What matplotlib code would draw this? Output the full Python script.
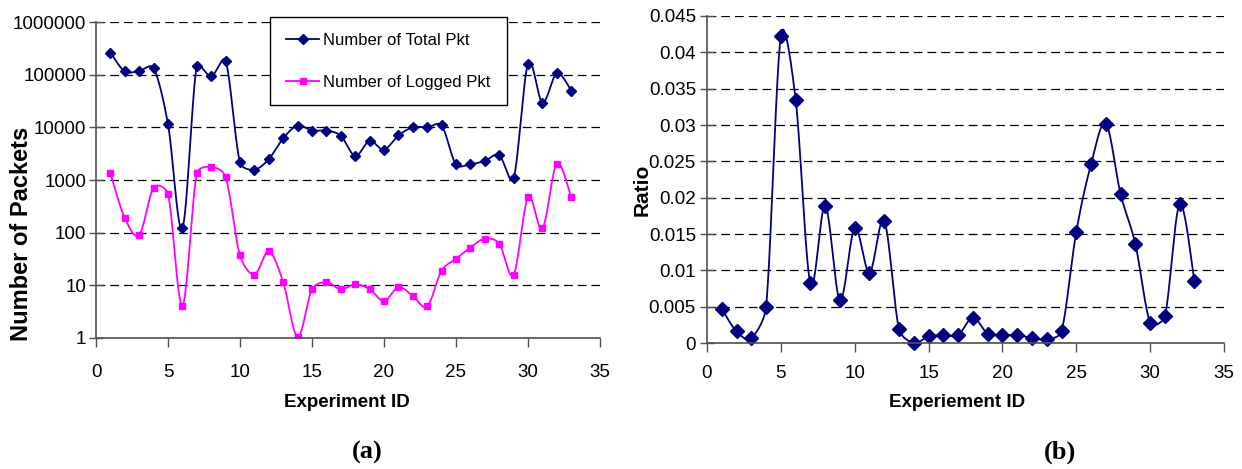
import numpy as np
import matplotlib
matplotlib.use("Agg")
import matplotlib.pyplot as plt

# experiment ids and values
exp_id = list(range(1, 34))
total_pkt = [263000, 115000, 119000, 134000, 11500, 123, 148000, 93000, 185000, 2150,
             1570, 2500, 6200, 10800, 8700, 8700, 6900, 2870, 5500, 3770,
             7000, 10000, 10000, 10900, 1970, 2000, 2300, 2950, 1070, 160000,
             29500, 106000, 50000]
logged_pkt = [1330, 190, 90, 720, 540, 4.1, 1330, 1780, 1150, 37,
              16, 44, 11.5, 1.05, 8.4, 11.5, 8.4, 10.4, 8.5, 5.0,
              9.2, 6.3, 4.0, 19, 32, 52, 77, 62, 16, 470,
              120, 2050, 470]
ratio = [0.0047, 0.0016, 0.0007, 0.0050, 0.0423, 0.0335, 0.0082, 0.0189, 0.0059, 0.0158,
         0.0097, 0.0168, 0.0019, 0.0, 0.0009, 0.0011, 0.0011, 0.0035, 0.0013, 0.0011,
         0.0011, 0.0007, 0.0005, 0.0016, 0.0153, 0.0246, 0.0302, 0.0205, 0.0136, 0.0028,
         0.0037, 0.0191, 0.0085]

log_ticks = [1, 10, 100, 1000, 10000, 100000, 1000000]
log_labels = ["1", "10", "100", "1000", "10000", "100000", "1000000"]
ratio_ticks = [0, 0.005, 0.01, 0.015, 0.02, 0.025, 0.03, 0.035, 0.04, 0.045]
ratio_labels = ["0", "0.005", "0.01", "0.015", "0.02", "0.025", "0.03", "0.035", "0.04", "0.045"]
x_ticks = [0, 5, 10, 15, 20, 25, 30, 35]

plt.rcParams["font.family"] = ["Liberation Sans", "DejaVu Sans"]
plt.rcParams["font.size"] = 13.5

NAVY = "#000080"
MAGENTA = "#FF00FF"
AXC = "#505050"


def smooth(ax, x, y, n=40):
    # excel-like smoothed line: catmull-rom bezier legs in screen space,
    # each leg capped to a part of its own segment to avoid loops
    pts = ax.transData.transform(np.column_stack([x, y]))
    m = len(pts)
    t = np.linspace(0, 1, n)[:, None]
    out = []

    def leg(i, j):
        # leg at point i pointing toward neighbour j
        a = pts[max(i - 1, 0)]
        b = pts[min(i + 1, m - 1)]
        v = (b - a) / 6.0
        if j < i:
            v = -v
        lim = np.hypot(*(pts[j] - pts[i])) * 0.4
        ln = np.hypot(*v)
        if ln > lim and ln > 0:
            v = v * lim / ln
        return v

    for i in range(m - 1):
        p0, p3 = pts[i], pts[i + 1]
        p1 = p0 + leg(i, i + 1)
        p2 = p3 + leg(i + 1, i)
        b = ((1 - t) ** 3) * p0 + 3 * ((1 - t) ** 2) * t * p1 + 3 * (1 - t) * t ** 2 * p2 + t ** 3 * p3
        out.append(b)
    out = np.concatenate(out)
    d = ax.transData.inverted().transform(out)
    return d[:, 0], d[:, 1]


def style_axes(ax):
    for s in ["top", "right"]:
        ax.spines[s].set_visible(False)
    for s in ["left", "bottom"]:
        ax.spines[s].set_color(AXC)
        ax.spines[s].set_linewidth(1.2)
    ax.yaxis.grid(True, color="black", linestyle=(0, (7, 4)), linewidth=0.9)
    ax.set_axisbelow(True)
    ax.set_xlim(0, 35)
    ax.set_xticks(x_ticks)
    ax.set_xticklabels([str(v) for v in x_ticks])
    ax.tick_params(axis="y", direction="inout", length=10, width=1, color=AXC, pad=2)
    ax.tick_params(axis="x", direction="out", length=6.5, width=1, color=AXC)
    ax.tick_params(which="minor", length=0)


fig = plt.figure(figsize=(12.42, 4.69), dpi=100)

# (a) packets, log scale
ax1 = fig.add_axes([96 / 1242, 1 - 338 / 469, 504 / 1242, 316 / 469])
style_axes(ax1)
ax1.set_yscale("log")
ax1.set_ylim(1, 1000000)
ax1.set_yticks(log_ticks)
ax1.set_yticklabels(log_labels)
ax1.yaxis.set_minor_locator(matplotlib.ticker.NullLocator())
ax1.tick_params(axis="x", pad=12)

sx, sy = smooth(ax1, exp_id, total_pkt)
ax1.plot(sx, sy, color=NAVY, lw=1.3)
ax1.plot(exp_id, total_pkt, linestyle="none", marker="D", ms=5, color=NAVY)
sx, sy = smooth(ax1, exp_id, logged_pkt)
ax1.plot(sx, sy, color=MAGENTA, lw=1.3)
ax1.plot(exp_id, logged_pkt, linestyle="none", marker="s", ms=4.5, color=MAGENTA)

# legend proxies
h1, = ax1.plot([], [], color=NAVY, lw=1.3, marker="D", ms=5)
h2, = ax1.plot([], [], color=MAGENTA, lw=1.3, marker="s", ms=4.5)
leg = fig.legend([h1, h2], ["Number of Total Pkt", "Number of Logged Pkt"],
                 loc="upper left", bbox_to_anchor=(270 / 1242, 1 - 17 / 469),
                 bbox_transform=fig.transFigure, borderaxespad=0, fancybox=False,
                 edgecolor="black", framealpha=1, handlelength=2.0, handletextpad=0.25,
                 labelspacing=1.6, borderpad=0.95, fontsize=12)
leg.get_frame().set_linewidth(1.0)

ax1.set_xlabel("Experiment ID", fontweight="bold", va="center")
ax1.xaxis.set_label_coords(0.498, -0.204)
ax1.set_ylabel("Number of Packets", fontweight="bold", va="center", fontsize=17)
ax1.yaxis.set_label_coords(-0.147, 0.33)

# (b) ratio
ax2 = fig.add_axes([707 / 1242, 1 - 343 / 469, 517 / 1242, 327 / 469])
style_axes(ax2)
ax2.set_ylim(0, 0.045)
ax2.set_yticks(ratio_ticks)
ax2.set_yticklabels(ratio_labels)
ax2.tick_params(axis="x", pad=9)
ax2.tick_params(axis="y", pad=3)

sx, sy = smooth(ax2, exp_id, ratio)
ax2.plot(sx, sy, color=NAVY, lw=1.3, clip_on=False)
ax2.plot(exp_id, ratio, linestyle="none", marker="D", ms=7.5, color=NAVY, clip_on=False)

ax2.set_xlabel("Experiement ID", fontweight="bold", va="center")
ax2.xaxis.set_label_coords(0.4836, -0.182)
ax2.set_ylabel("Ratio", fontweight="bold", va="center", fontsize=15)
ax2.yaxis.set_label_coords(-0.126, 0.468)

serif = ["Liberation Serif", "DejaVu Serif"]
fig.text(367 / 1242, 1 - 452 / 469, "(a)", family=serif, fontweight="bold",
         fontsize=19, ha="center", va="center")
fig.text(1060 / 1242, 1 - 452 / 469, "(b)", family=serif, fontweight="bold",
         fontsize=19, ha="center", va="center")

fig.savefig("out.png", dpi=100, facecolor="white")
